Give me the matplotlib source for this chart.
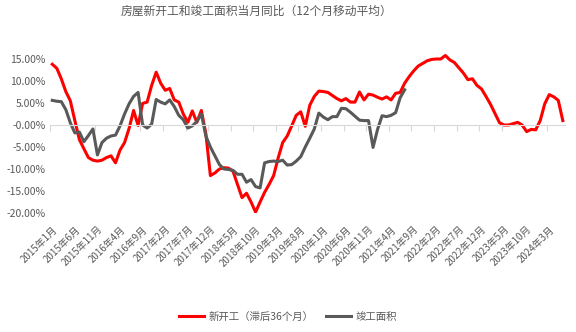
import numpy as np
import matplotlib
matplotlib.use("Agg")
import matplotlib.pyplot as plt

plt.rcParams['font.family'] = ['Noto Sans CJK SC', 'DejaVu Sans']

# 月度数据：2015年1月 起，单位 %
xin_kai_gong = [
    13.8, 12.9, 10.5, 7.6, 5.5, 1.0, -3.3, -5.4, -7.4, -8.0,
    -8.2, -8.0, -7.4, -7.0, -8.6, -5.7, -4.0, -0.8, 3.3, -0.1,
    4.9, 5.2, 9.0, 12.0, 9.5, 7.9, 8.3, 5.7, 5.2, 2.5,
    0.6, 3.2, 0.6, 3.3, -2.0, -11.5, -10.9, -10.0, -9.7, -9.8,
    -10.5, -13.5, -16.5, -15.5, -17.5, -19.8, -17.5, -15.3, -13.5, -11.5,
    -7.5, -4.0, -2.5, -0.2, 2.2, 3.0, -0.3, 4.5, 6.5, 7.7,
    7.6, 7.4, 6.7, 6.0, 5.5, 6.0, 5.2, 5.2, 7.5, 5.7,
    7.0, 6.8, 6.3, 5.9, 6.4, 5.7, 7.2, 7.4, 9.5, 11.0,
    12.3, 13.4, 14.0, 14.6, 14.9, 15.0, 15.0, 15.8, 14.8, 14.2,
    13.0, 11.8, 10.3, 10.5, 9.0, 8.2, 6.5, 4.7, 2.6, 0.5,
    0.0, 0.0, 0.3, 0.6, 0.0, -1.5, -1.0, -1.1, 1.0, 4.8,
    6.9, 6.4, 5.6, 1.0,
]
jun_gong = [
    5.6, 5.4, 5.3, 3.5, 0.5, -1.8, -1.6, -3.8, -2.4, -0.9,
    -6.8, -4.0, -3.0, -2.5, -2.3, -0.2, 2.5, 4.8, 6.5, 7.4,
    0.0, -0.7, 0.2, 5.8, 5.2, 4.8, 5.7, 4.2, 2.2, 1.2,
    -0.7, -0.2, 0.8, 2.5, -2.5, -5.0, -7.0, -9.0, -10.0, -10.1,
    -10.3, -11.2, -11.2, -13.0, -12.4, -14.0, -14.3, -8.6, -8.3, -8.2,
    -8.3, -8.0, -9.1, -9.0, -8.2, -7.2, -5.0, -3.0, -0.9, 2.7,
    1.8, 1.2, 1.9, 1.9, 3.8, 3.7, 2.9, 2.0, 1.1, 1.0,
    1.0, -5.1, -1.0, 2.1, 1.9, 2.2, 2.8, 6.2, 8.0,
]
x_labels = [
    '2015年1月', '2015年6月', '2015年11月', '2016年4月', '2016年9月',
    '2017年2月', '2017年7月', '2017年12月', '2018年5月', '2018年10月',
    '2019年3月', '2019年8月', '2020年1月', '2020年6月', '2020年11月',
    '2021年4月', '2021年9月', '2022年2月', '2022年7月', '2022年12月',
    '2023年5月', '2023年10月', '2024年3月',
]

gris = '#595959'
n = len(xin_kai_gong)

fig = plt.figure(figsize=(5.76, 3.32), dpi=100)
ax = fig.add_axes([0.0868, 0.3584, 0.8942, 0.5302])

red = np.array(xin_kai_gong) / 100
gray = np.array(jun_gong) / 100
l1, = ax.plot(np.arange(n), red, color='#FF0000', lw=2.2, label='新开工（滞后36个月）')
l2, = ax.plot(np.arange(len(gray)), gray, color=gris, lw=2.2, label='竣工面积')

ax.set_xlim(-0.5, n - 0.5)
ax.set_ylim(-0.2, 0.2)
ax.set_yticks(np.arange(-0.2, 0.151, 0.05))
ax.set_yticklabels([f'{v * 100:.2f}%' for v in np.arange(-0.2, 0.151, 0.05)])
ax.tick_params(axis='y', length=0, labelsize=7.5, labelcolor=gris, pad=3)

# eje de categorías cruzando en 0
for s in ['top', 'right', 'left']:
    ax.spines[s].set_visible(False)
ax.spines['bottom'].set_position(('data', 0))
ax.spines['bottom'].set_color('#D9D9D9')
ax.spines['bottom'].set_linewidth(0.8)
ax.set_xticks(np.arange(-0.5, n, 5))
ax.tick_params(axis='x', length=4, color='#D9D9D9', labelbottom=False)

sec = ax.secondary_xaxis('bottom')
sec.set_xticks(np.arange(0, 5 * len(x_labels), 5))
sec.set_xticklabels(x_labels, rotation=45, ha='right', rotation_mode='anchor')
sec.tick_params(length=0, labelsize=7, labelcolor=gris, pad=8)
sec.spines['bottom'].set_visible(False)

fig.suptitle('房屋新开工和竣工面积当月同比（12个月移动平均）', x=0.445, y=0.985,
             fontsize=8.5, color=gris)

fig.legend(handles=[l1, l2], loc='center', bbox_to_anchor=(0.5, 0.045), ncol=2,
           frameon=False, fontsize=7.5, labelcolor=gris, handlelength=2.4,
           columnspacing=1.2, handletextpad=0.4)

fig.savefig('out.png', dpi=100)
